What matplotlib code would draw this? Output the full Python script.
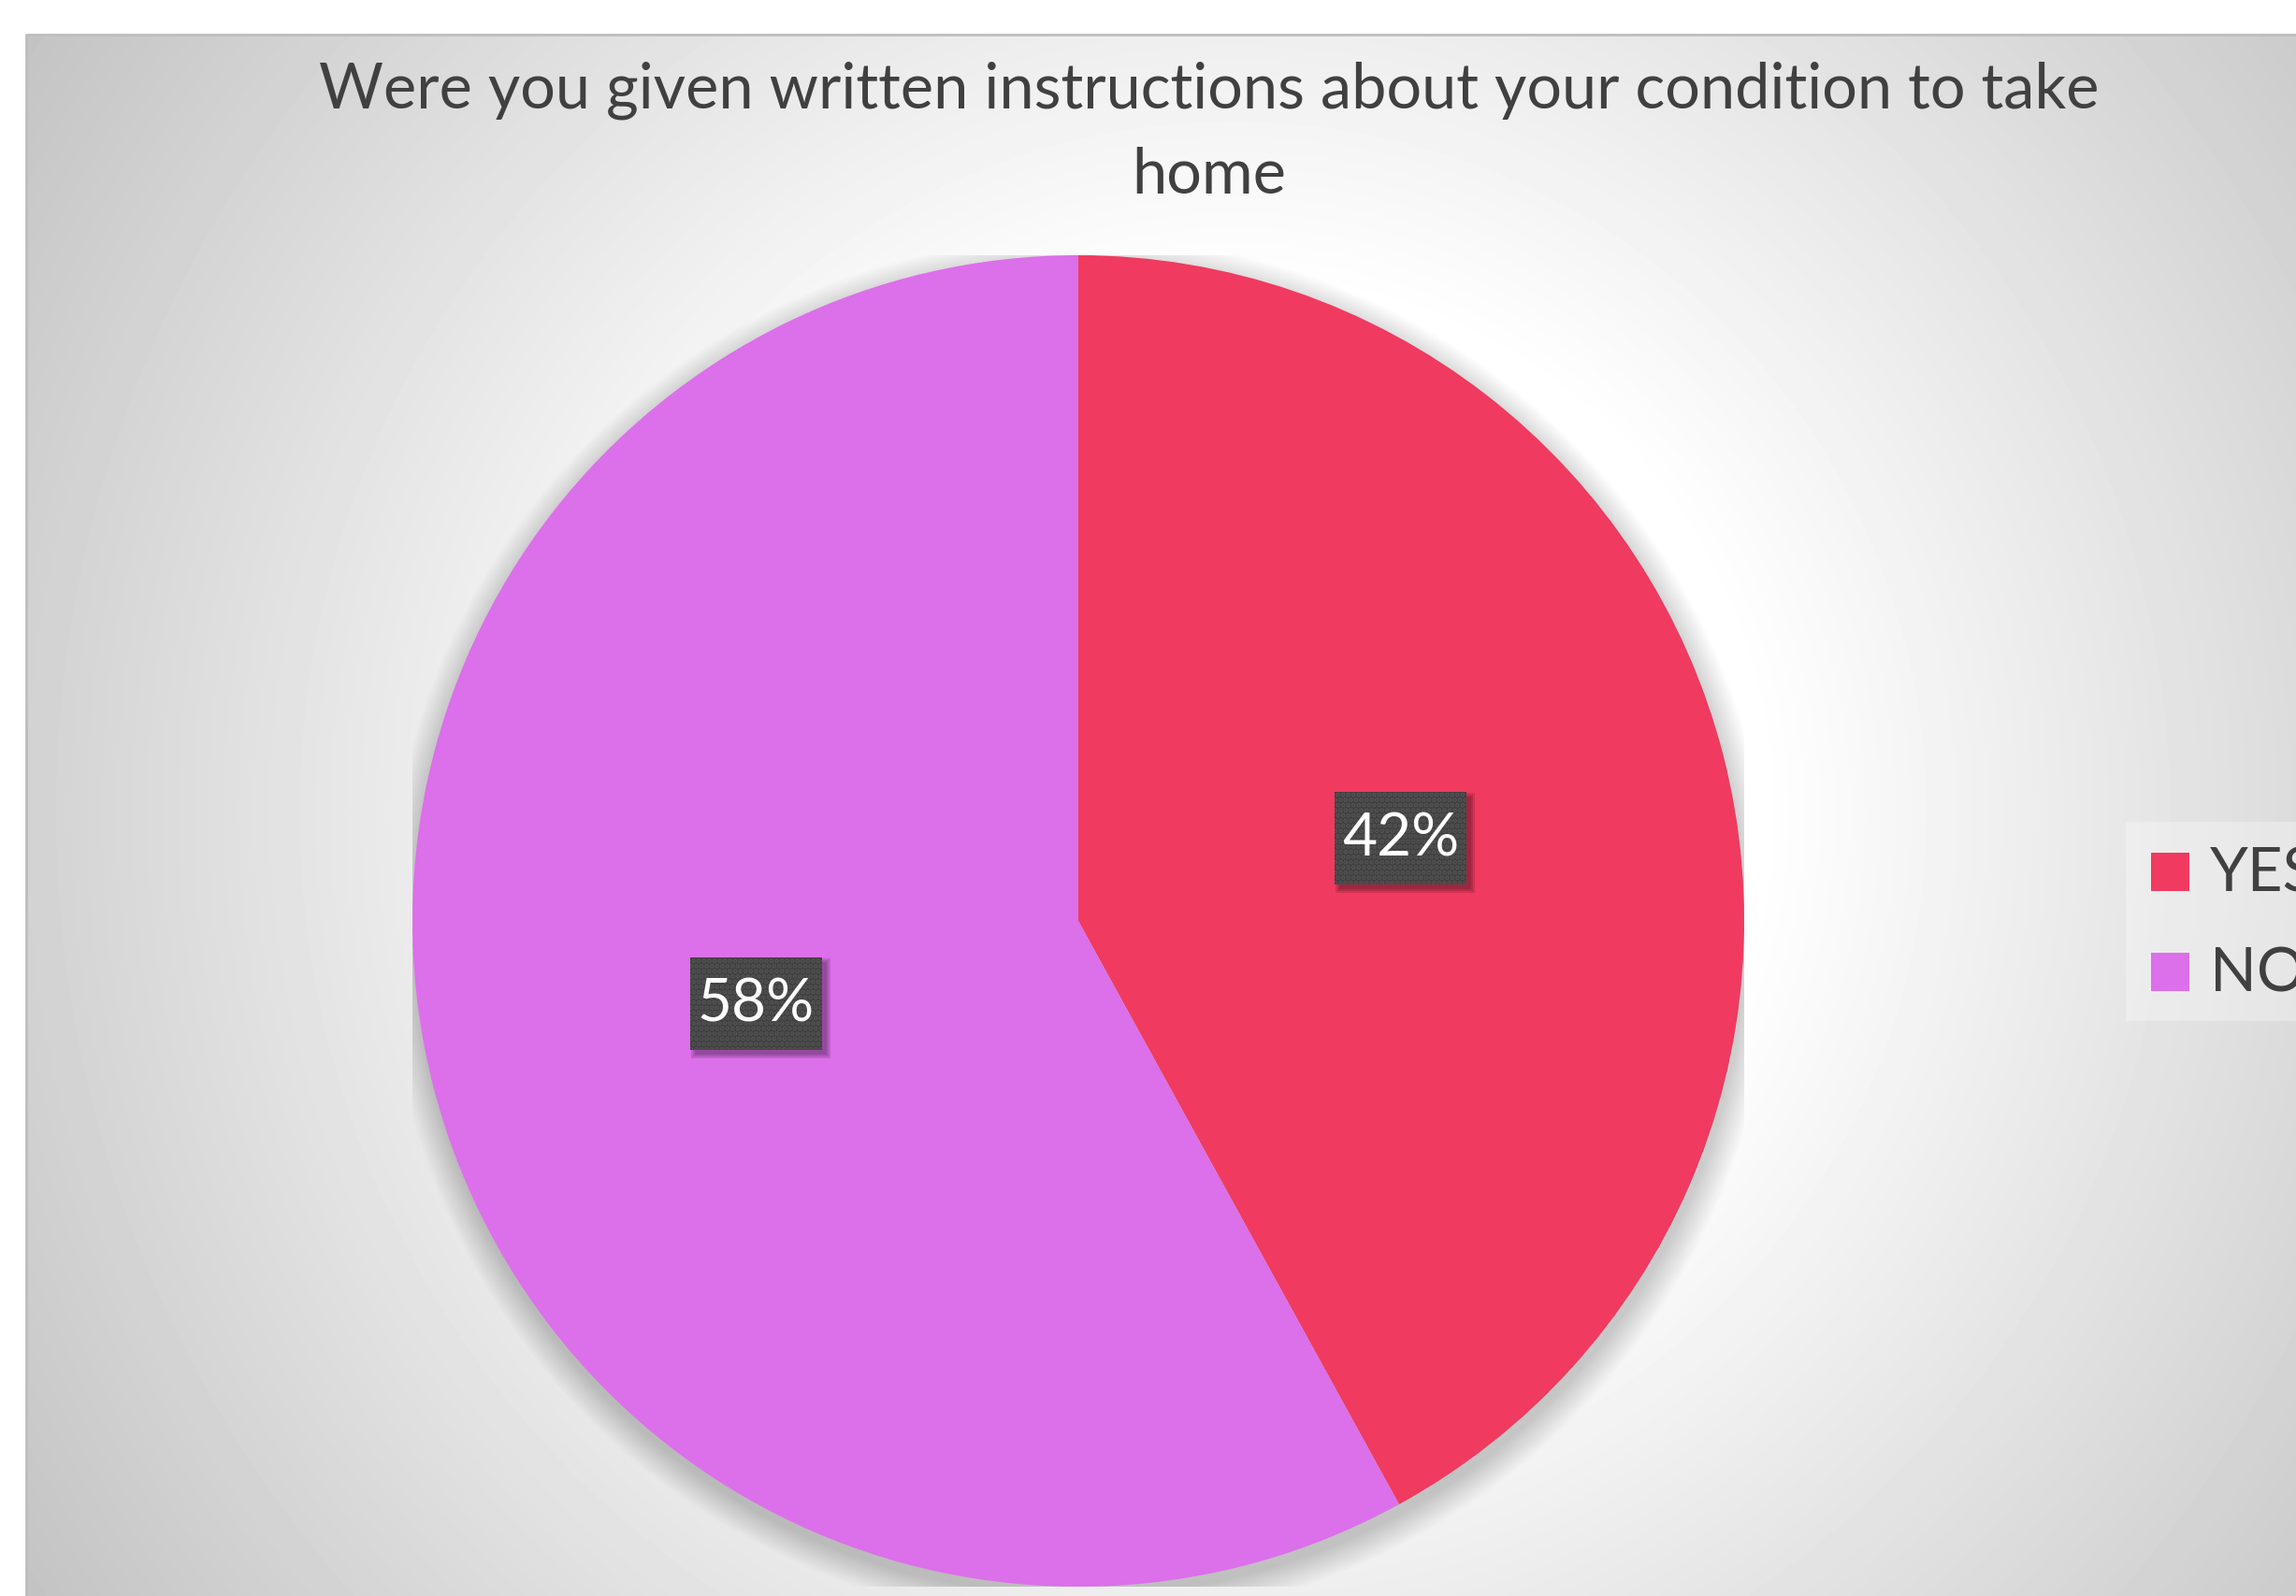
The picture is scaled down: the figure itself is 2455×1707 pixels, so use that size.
import numpy as np
import matplotlib
matplotlib.use("Agg")
import matplotlib.pyplot as plt
from matplotlib.patches import Rectangle, Circle


# data
title = "Were you given written instructions about your condition to take\nhome"
labels = ["YES", "NO"]
shares = [42, 58]
colors = ["#F03A5F", "#DC6FEA"]

# canvas (pixels)
W, H = 2455, 1708
DPI = 100
TEXT_COLOR = "#404040"

plt.rcParams["font.family"] = ["Lato", "DejaVu Sans"]
plt.rcParams["hatch.linewidth"] = 2.5

fig = plt.figure(figsize=(W / DPI, H / DPI), dpi=DPI)
fig.patch.set_facecolor("white")

# ------------------------------------------------------------
# background axes in pixel coordinates
# ------------------------------------------------------------
bg = fig.add_axes([0, 0, 1, 1])
bg.set_xlim(0, W)
bg.set_ylim(H, 0)
bg.axis("off")

# radial grey fill: white core fading out to grey corners
x0, y0 = 28, 38
gx, gy = np.meshgrid(np.arange(x0, W), np.arange(y0, H))
cx, cy = 1320, 870
r0, R = 560, 1525
r = np.hypot(gx - cx, gy - cy)
t = np.clip((r - r0) / (R - r0), 0, 1)
shade = (255 - 59 * t) / 255.0
bg.imshow(shade, cmap="gray", vmin=0, vmax=1, extent=[x0, W, H, y0],
          interpolation="bilinear", zorder=0)
bg.plot([x0, x0, W], [H, y0, y0], color="#bdbdbd", lw=2, zorder=1)

# title
for i, line in enumerate(title.split("\n")):
    bg.text(1293, 115 + 92 * i, line, ha="center", va="baseline",
            fontsize=48, color=TEXT_COLOR, zorder=3)

# legend
bg.add_patch(Rectangle((2273, 880), W - 2273, 213, facecolor="white",
                       alpha=0.3, edgecolor="none", zorder=2))
for i, (lab, col) in enumerate(zip(labels, colors)):
    yy = 913 + 107 * i
    bg.add_patch(Rectangle((2300, yy), 41, 41, facecolor=col,
                           edgecolor="none", zorder=3))
    bg.text(2363, yy + 41, lab, ha="left", va="baseline",
            fontsize=47, color=TEXT_COLOR, zorder=3)

# ------------------------------------------------------------
# pie
# ------------------------------------------------------------
pcx, pcy, pr = 1153, 986, 712
ax = fig.add_axes([(pcx - pr) / W, (H - pcy - pr) / H, 2 * pr / W, 2 * pr / H])
ax.set_facecolor("none")

# soft drop shadow under the pie
for k in range(24):
    ax.add_patch(Circle((0.003, -0.014), 1.0 + 0.0018 * k,
                        facecolor="black", edgecolor="none",
                        alpha=0.008, zorder=0))

wedges, _, autotexts = ax.pie(
    shares,
    colors=colors,
    startangle=90,
    counterclock=False,
    autopct="%1.0f%%",
    pctdistance=0.5,
    wedgeprops=dict(linewidth=0, zorder=1),
    textprops=dict(color="white", fontsize=46),
)

# dark dotted label boxes with a small soft shadow
box_w, box_h = 141 / pr, 99 / pr
sh = 5 / pr
for t in autotexts:
    tx, ty = t.get_position()
    t.set_zorder(5)
    t.set_va("center")
    for k in range(3):
        grow = k * 2 / pr
        ax.add_patch(Rectangle((tx - box_w / 2 + sh - grow, ty - box_h / 2 - sh - grow),
                               box_w + 2 * grow, box_h + 2 * grow,
                               facecolor="black", edgecolor="none",
                               alpha=0.12, zorder=3))
    ax.add_patch(Rectangle((tx - box_w / 2, ty - box_h / 2), box_w, box_h,
                           facecolor="#404040", edgecolor="#535353", linewidth=0,
                           hatch="...", zorder=4))

ax.set_xlim(-1, 1)
ax.set_ylim(-1, 1)
ax.set_aspect("equal")
ax.axis("off")

fig.savefig("out.png", dpi=DPI, facecolor=fig.get_facecolor())
